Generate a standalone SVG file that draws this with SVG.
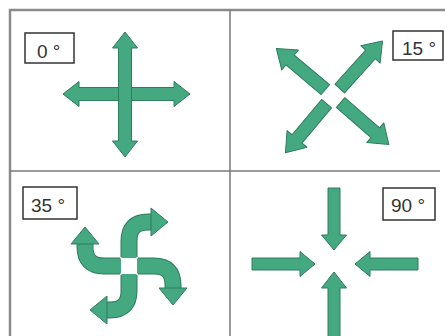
<svg xmlns="http://www.w3.org/2000/svg" width="445" height="336" viewBox="0 0 445 336">
<style>
.frame{fill:none;stroke:#8a8a8a;stroke-width:2.5}
.div{fill:none;stroke:#7a7a7a;stroke-width:1.5}
.lbl{fill:#fff;stroke:#333;stroke-width:1.5}
.txt{font-family:"Liberation Sans",Arial,sans-serif;font-size:19px;fill:#333}
.ar{fill:#44a880;stroke:#2e7d5d;stroke-width:1;stroke-linejoin:round}
.sd{fill:none;stroke:#2e7d5d;stroke-width:17}
.sl{fill:none;stroke:#44a880;stroke-width:15}
.hl{fill:#44a880;stroke:#2e7d5d;stroke-width:1;stroke-linejoin:round}
</style>
<defs>
<polygon id="ray" class="ar" points="10,-6.5 56,-6.5 56,-13 74,0 56,13 56,6.5 10,6.5"/>
<g id="arm">
<path class="sd" d="M0,-9 L0,-25 Q0,-44 19,-44 L23,-44"/>
<path class="sl" d="M0,-8 L0,-25 Q0,-44 19,-44 L24,-44"/>
<polygon class="hl" points="22,-58 39,-44 22,-30"/>
</g>
</defs>
<rect width="445" height="336" fill="#fff"/>
<g id="frame">
<path class="frame" d="M10,336 L10,10 L445,10"/>
<path class="div" d="M230,10 L230,336 M10,171 L440,171"/>
</g>
<g id="q0">
<rect class="lbl" x="25" y="33" width="49" height="30"/>
<text class="txt" x="37" y="58">0 °</text>
<polygon class="ar" points="63,94 79,81.5 79,87.5 174,87.5 174,81.5 190,94 174,106.5 174,100.5 79,100.5 79,106.5"/>
<polygon class="ar" points="125,32 137.5,48 131.5,48 131.5,141 137.5,141 125,157 112.5,141 118.5,141 118.5,48 112.5,48"/>
</g>
<g id="q15">
<rect class="lbl" x="393" y="31" width="50" height="29"/>
<text class="txt" x="402" y="55">15 °</text>
<use href="#ray" transform="translate(333,96) rotate(-48)"/>
<use href="#ray" transform="translate(333,96) rotate(-140)"/>
<use href="#ray" transform="translate(333,96) rotate(41)"/>
<use href="#ray" transform="translate(333,96) rotate(130)"/>
</g>
<g id="q35">
<rect class="lbl" x="23" y="187" width="54" height="32"/>
<text class="txt" x="31" y="212">35 °</text>
<use href="#arm" transform="translate(129,266)"/>
<use href="#arm" transform="translate(129,266) rotate(90)"/>
<use href="#arm" transform="translate(129,266) rotate(180)"/>
<use href="#arm" transform="translate(129,266) rotate(270)"/>
</g>
<g id="q90">
<rect class="lbl" x="383" y="188" width="52" height="32"/>
<text class="txt" x="391" y="212">90 °</text>
<polygon class="ar" points="328,188 340,188 340,235 346.5,235 334,250 321.5,235 328,235"/>
<polygon class="ar" points="328,337 340,337 340,288 346.5,288 334,272 321.5,288 328,288"/>
<polygon class="ar" points="252,258 300,258 300,251.5 315,264 300,276.5 300,270 252,270"/>
<polygon class="ar" points="418,258 370,258 370,251.5 355,264 370,276.5 370,270 418,270"/>
</g>
</svg>
